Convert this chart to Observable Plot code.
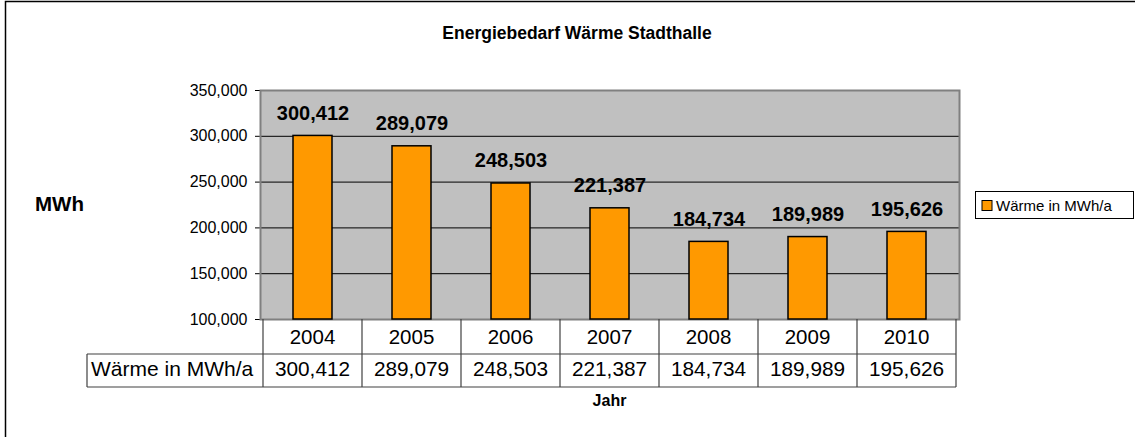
<!DOCTYPE html>
<html>
<head>
<meta charset="utf-8">
<script src="https://cdn.jsdelivr.net/npm/d3@7"></script>
<script src="https://cdn.jsdelivr.net/npm/@observablehq/plot@0.6"></script>
<style>
  html, body { margin: 0; padding: 0; background: #fff; }
  #chart { width: 1135px; height: 437px; overflow: hidden; }
</style>
</head>
<body>
<div id="chart"></div>
<script>
// ---- data ----
const years = ["2004", "2005", "2006", "2007", "2008", "2009", "2010"];
const values = [300412, 289079, 248503, 221387, 184734, 189989, 195626];
const yTicks = [100000, 150000, 200000, 250000, 300000, 350000];
const seriesName = "Wärme in MWh/a";
const chartTitle = "Energiebedarf Wärme Stadthalle";
const yTitle = "MWh";
const xTitle = "Jahr";

const data = years.map((year, i) => ({ year, value: values[i] }));
const fmt = d3.format(",");
const FONT = "Liberation Sans, Arial, Helvetica, sans-serif";

// table, titles, legend & outer border drawn with the chart's x scale
function extras(index, scales, channels, dims) {
  const x = scales.x;
  const step = x(years[1]) - x(years[0]);
  const left = x(years[0]);
  const right = x(years[years.length - 1]) + step;
  const top = dims.height - dims.marginBottom;      // bottom of plot frame
  const r1 = top + 35, r2 = top + 68;                 // row bottoms
  const headLeft = 87;
  const g = d3.create("svg:g").attr("font-family", FONT).attr("text-anchor", "start").attr("fill", "#000");

  // outer chart border
  g.append("rect").attr("x", 5.5).attr("y", 1.5).attr("width", 1200).attr("height", 600)
    .attr("fill", "none").attr("stroke", "#000").attr("stroke-width", 1.5);

  // data table lines
  const line = (x1, y1, x2, y2) => g.append("line").attr("x1", x1).attr("y1", y1)
    .attr("x2", x2).attr("y2", y2).attr("stroke", "#404040").attr("stroke-width", 1.2);
  years.forEach(y => line(x(y), top, x(y), r2));
  line(right, top, right, r2);
  line(headLeft, r1, right, r1);
  line(headLeft, r2, right, r2);
  line(headLeft, r1, headLeft, r2);

  // table texts
  years.forEach((y, i) => {
    g.append("text").attr("x", x(y) + step / 2).attr("y", (top + r1) / 2).attr("dy", "0.35em")
      .attr("text-anchor", "middle").attr("font-size", 20.5).text(y);
    g.append("text").attr("x", x(y) + step / 2).attr("y", (r1 + r2) / 2 - 1.5).attr("dy", "0.35em")
      .attr("text-anchor", "middle").attr("font-size", 20.8).text(fmt(values[i]));
  });
  g.append("text").attr("x", headLeft + 4).attr("y", (r1 + r2) / 2 - 1.5).attr("dy", "0.35em")
    .attr("text-anchor", "start").attr("font-size", 21).text(seriesName);

  // titles
  g.append("text").attr("x", 577).attr("y", 39).attr("text-anchor", "middle")
    .attr("font-size", 17.5).attr("font-weight", "bold").text(chartTitle);
  g.append("text").attr("x", 35).attr("y", 211).attr("text-anchor", "start")
    .attr("font-size", 20.5).attr("font-weight", "bold").text(yTitle);
  g.append("text").attr("x", (left + right) / 2).attr("y", 406).attr("text-anchor", "middle")
    .attr("font-size", 16).attr("font-weight", "bold").text(xTitle);

  // legend
  g.append("rect").attr("x", 975.5).attr("y", 191.5).attr("width", 158).attr("height", 27)
    .attr("fill", "#fff").attr("stroke", "#000").attr("stroke-width", 1);
  g.append("rect").attr("x", 982).attr("y", 200.5).attr("width", 10).attr("height", 10)
    .attr("fill", "#FF9900").attr("stroke", "#000").attr("stroke-width", 1);
  g.append("text").attr("x", 996).attr("y", 205.5).attr("dy", "0.35em").attr("text-anchor", "start")
    .attr("font-size", 15).text(seriesName);
  return g.node();
}

const chart = Plot.plot({
  width: 1135,
  height: 437,
  marginLeft: 260,
  marginRight: 176,
  marginTop: 90,
  marginBottom: 118,
  style: { fontFamily: FONT, fontSize: "16px", background: "#fff", color: "#000", overflow: "visible" },
  x: { domain: years, padding: 0, axis: null },
  y: { domain: [100000, 350000], ticks: yTicks, tickFormat: fmt, tickSize: 5, tickPadding: 8, label: null, fontSize: 16 },
  marks: [
    Plot.frame({ fill: "#C0C0C0" }),
    Plot.ruleY(yTicks.slice(1, -1), { stroke: "#000", strokeWidth: 1 }),
    Plot.frame({ stroke: "#808080", strokeWidth: 2 }),
    Plot.barY(data, { x: "year", y1: 100000, y2: "value", fill: "#FF9900", stroke: "#000", strokeWidth: 1.5, insetLeft: 30, insetRight: 30 }),
    Plot.text(data, { x: "year", y: "value", text: d => fmt(d.value), dy: -16, lineAnchor: "bottom", fontWeight: "bold", fontSize: 20, fill: "#000" }),
    extras
  ]
});
document.getElementById("chart").appendChild(chart);
</script>
</body>
</html>
